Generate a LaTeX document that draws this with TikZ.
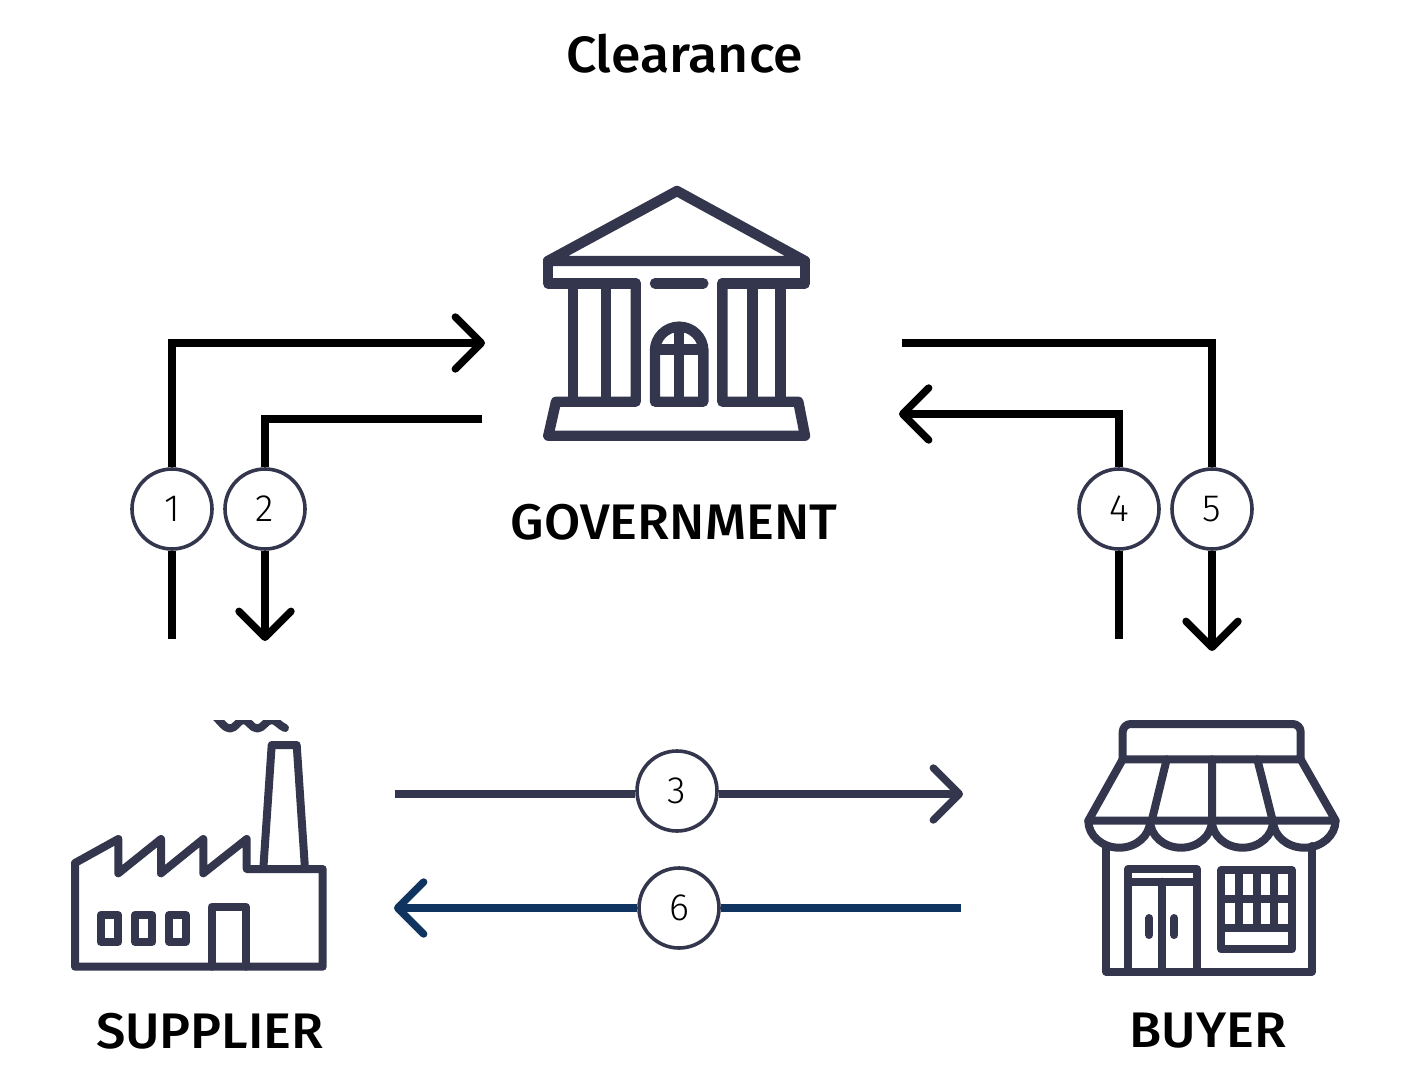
\documentclass[tikz,border=0pt]{standalone}
\usepackage{fontspec}
\setmainfont{Fira Sans Light}
\newfontfamily\headfont[FakeStretch=1.05]{Fira Sans Medium}
\usetikzlibrary{arrows.meta}
\definecolor{icon}{HTML}{33364D}
\definecolor{navy}{HTML}{0F3460}
\tikzset{
	px/.style={x=0.5pt,y=-0.5pt},
	wire/.style={line width=3.7pt,black},
	barb/.style={-{Straight Barb[length=13pt,width=26pt,line width=3.7pt,round]}},
	num/.style={draw=icon,circle,fill=white,line width=1.8pt,minimum size=40pt,inner sep=0pt,font=\fontsize{19}{19}\selectfont},
	caption/.style={font=\headfont\fontsize{25}{25}\selectfont,text=black,inner sep=0pt},
	iconb/.style={draw=icon,line width=5.2pt,line join=round,line cap=round},
	iconc/.style={draw=icon,line width=4pt,line join=round,line cap=round}
}
\begin{document}
\begin{tikzpicture}[px]
	\useasboundingbox (0,0) rectangle (1418,1081);
	\node[caption,font=\headfont\fontsize{25.5}{25.5}\selectfont] (T0) at (684.5,54) {Clearance};
	\node[caption] (L0) at (674,522) {GOVERNMENT};
	\node[caption] (L1) at (210,1031) {SUPPLIER};
	\node[caption] (L2) at (1208,1031) {BUYER};
	% numbered circles
	\node[num] (N1) at (172,509) {\raisebox{-0.5pt}{1}};
	\node[num] (N2) at (265,509) {\raisebox{-0.5pt}{2}};
	\node[num] (N3) at (677,791) {\raisebox{-0.5pt}{3}};
	\node[num] (N4) at (1119,509) {\raisebox{-0.5pt}{4}};
	\node[num] (N5) at (1212,509) {\raisebox{-0.5pt}{5}};
	\node[num] (N6) at (679,908) {\raisebox{-0.5pt}{6}};
	% free ends of the arrows
	\coordinate (A1) at (172,639);
	\coordinate (B1) at (485,343);
	\coordinate (A2) at (482,419);
	\coordinate (B2) at (265,641);
	\coordinate (A3) at (395,794);
	\coordinate (B3) at (963,794);
	\coordinate (A4) at (1119,639);
	\coordinate (B4) at (899,414);
	\coordinate (A5) at (902,343);
	\coordinate (B5) at (1212,651);
	\coordinate (A6) at (961,908);
	\coordinate (B6) at (394,908);
	\draw[wire] (A1) -- (N1);
	\draw[wire,barb] (N1) |- (B1);
	\draw[wire] (A2) -| (N2);
	\draw[wire,barb] (N2) -- (B2);
	\draw[wire,icon] (A3) -- (A3 -| N3.west);
	\draw[wire,icon,barb] (B3 -| N3.east) -- (B3);
	\draw[wire] (A4) -- (N4);
	\draw[wire,barb] (N4) |- (B4);
	\draw[wire] (A5) -| (N5);
	\draw[wire,barb] (N5) -- (B5);
	\draw[wire,navy] (A6) -- (N6);
	\draw[wire,navy,barb] (N6) -- (B6);
	% government building
	\draw[iconb] (548,261) -- (677,191) -- (805,261) -- cycle;
	\draw[iconb] (635.7,283.3) -- (548,283.3) -- (548,261) (805,261) -- (805,283.3) -- (722.3,283.3);
	\draw[iconb] (655,283.3) -- (703.3,283.3);
	\draw[iconb] (635.7,283.3) -- (635.7,401.7) -- (556,401.7) -- (548.3,435.7) -- (805,435.7) -- (798.3,401.7) -- (722.3,401.7) -- (722.3,283.3);
	\draw[iconb] (572.7,283.3) -- (572.7,401.7) (605.7,283.3) -- (605.7,401.7) (752.3,283.3) -- (752.3,401.7) (780.3,283.3) -- (780.3,401.7);
	\draw[iconb] (655,401.7) -- (655,350.7) arc[start angle=180,end angle=360,x radius=24.15,y radius=24] -- (703.3,401.7) -- cycle;
	\draw[iconb] (679.2,326.7) -- (679.2,401.7) (655,349.3) -- (703.3,349.3);
	% factory
	\draw[iconc] (75,966.7) -- (75,863) -- (118.3,839) -- (118.3,873.3) -- (161,839) -- (161,873.3) -- (203.3,839) -- (203.3,873.3) -- (246.7,839) -- (246.7,869) -- (322.7,869) -- (322.7,966.7) -- cycle;
	\draw[iconc] (263.3,869) -- (271.7,745) -- (296.7,745) -- (305,869);
	\draw[iconc] (100.7,915) rectangle (118.3,941.7) (135,915) rectangle (152.3,941.7) (169,915) rectangle (186,941.7);
	\draw[iconc] (211.7,966.7) -- (211.7,906.7) -- (246,906.7) -- (246,966.7);
	\begin{scope}
		\clip (200,720) rectangle (300,740);
		\draw[iconc] (214,715) .. controls (221,722) and (225,728.5) .. (230,728.5) .. controls (236,728.5) and (238,720) .. (243.5,720) .. controls (249,720) and (251,728.5) .. (257.5,728.5) .. controls (263,728.5) and (266,720) .. (271.7,720) .. controls (276,720) and (280,726) .. (285,728);
	\end{scope}
	% shop
	\draw[iconc] (1122.7,759.3) -- (1122.7,732) arc[start angle=180,end angle=90,x radius=8,y radius=-8] -- (1292.7,724) arc[start angle=90,end angle=0,x radius=8,y radius=-8] -- (1300.7,759.3) -- cycle;
	\draw[iconc] (1122.7,759.3) -- (1088.3,820.7) -- (1335.7,820.7) -- (1300.7,759.3);
	\draw[iconc] (1166.7,759.3) -- (1151.7,820.7) (1212,759.3) -- (1212,820.7) (1257.3,759.3) -- (1272.7,820.7);
	\draw[iconc] (1088.3,820.7) arc[start angle=180,end angle=360,x radius=30.9,y radius=-27]
		arc[start angle=180,end angle=360,x radius=30.9,y radius=-27]
		arc[start angle=180,end angle=360,x radius=30.6,y radius=-27]
		arc[start angle=180,end angle=360,x radius=31.2,y radius=-27];
	\draw[iconc] (1106,846) -- (1106,971.7) -- (1311.7,971.7) -- (1311.7,846);
	\draw[iconc] (1128,971.7) -- (1128,869) -- (1196.7,869) -- (1196.7,971.7) (1128,881.7) -- (1196.7,881.7) (1162.3,881.7) -- (1162.3,971.7);
	\draw[iconc] (1149.3,918) -- (1149.3,935) (1174.3,918) -- (1174.3,935);
	\draw[iconc] (1221.3,870) rectangle (1292,949.3) (1221.3,899.3) -- (1292,899.3) (1221.3,928) -- (1292,928);
	\draw[iconc] (1239.3,870) -- (1239.3,928) (1256.7,870) -- (1256.7,928) (1274,870) -- (1274,928);
\end{tikzpicture}
\end{document}
